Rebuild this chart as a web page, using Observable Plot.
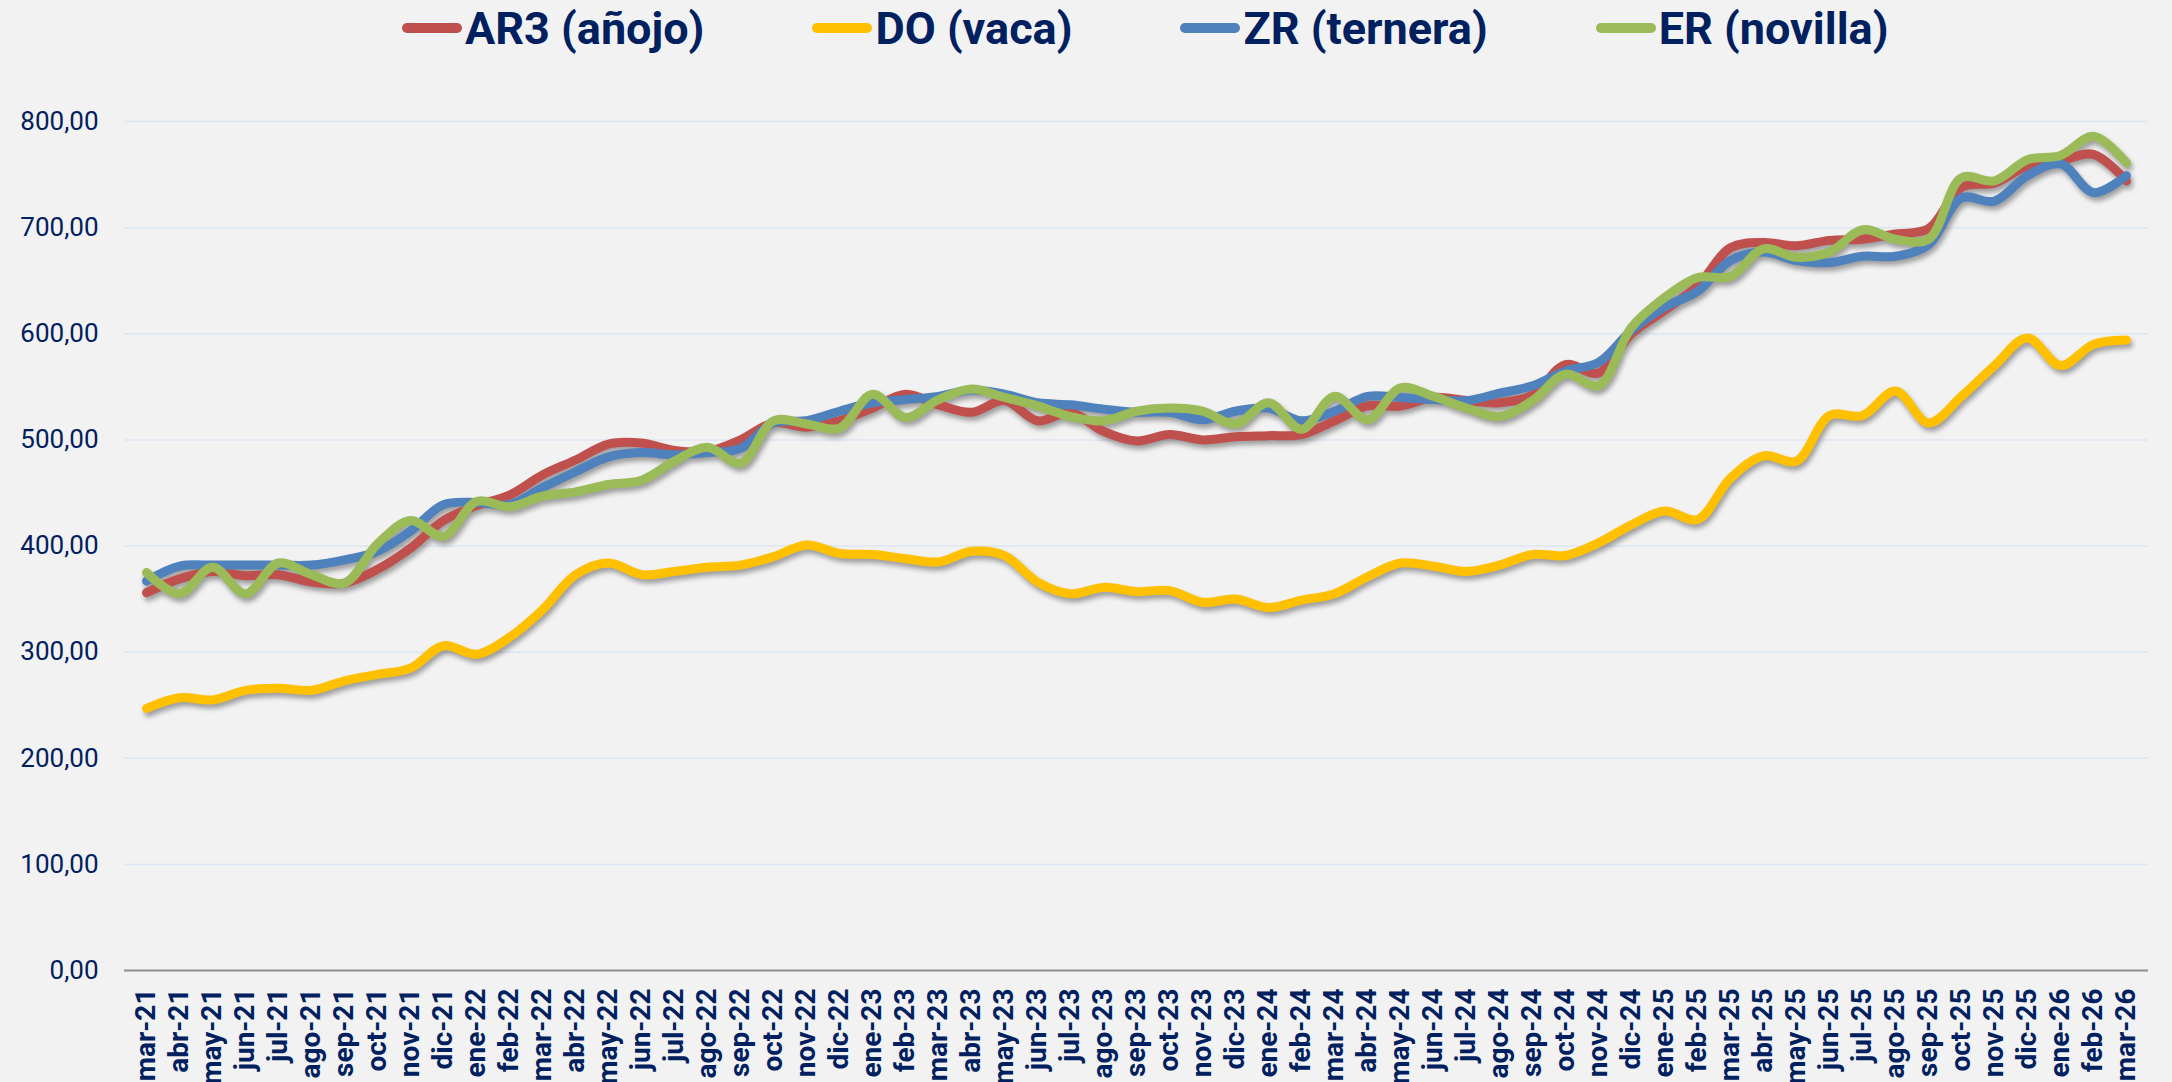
<!DOCTYPE html>
<html><head><meta charset="utf-8">
<script src="https://cdn.jsdelivr.net/npm/d3@7"></script>
<script src="https://cdn.jsdelivr.net/npm/@observablehq/plot@0.6"></script>
<style>
html,body{margin:0;padding:0;background:#f2f2f2;width:2172px;height:1082px;overflow:hidden;}
#legend{height:56px;display:flex;align-items:center;padding-left:402px;gap:108px;font-family:Roboto,sans-serif;font-weight:700;font-size:45px;color:#002060;box-sizing:border-box;}
.item{display:flex;align-items:center;white-space:nowrap;}
.sw{width:60px;height:10px;border-radius:5px;margin-right:3px;}
</style></head><body>
<div id="legend"></div>
<div id="chart"></div>
<script>
const months = ["mar-21","abr-21","may-21","jun-21","jul-21","ago-21","sep-21","oct-21","nov-21","dic-21",
"ene-22","feb-22","mar-22","abr-22","may-22","jun-22","jul-22","ago-22","sep-22","oct-22","nov-22","dic-22",
"ene-23","feb-23","mar-23","abr-23","may-23","jun-23","jul-23","ago-23","sep-23","oct-23","nov-23","dic-23",
"ene-24","feb-24","mar-24","abr-24","may-24","jun-24","jul-24","ago-24","sep-24","oct-24","nov-24","dic-24",
"ene-25","feb-25","mar-25","abr-25","may-25","jun-25","jul-25","ago-25","sep-25","oct-25","nov-25","dic-25",
"ene-26","feb-26","mar-26"];

const ar3 = [356,369,376,372,373,366,365,378,398,424,438,448,467,481,496,497,490,489,500,516,512,518,530,543,533,526,537,518,526,508,499,505,500,503,504,505,518,532,532,540,537,535,542,571,563,600,622,645,681,686,683,688,689,694,699,738,742,758,763,769,744];
const doVaca = [247,257,255,264,266,264,273,279,285,306,298,314,340,373,384,373,376,380,382,390,401,393,392,388,385,395,391,366,355,361,357,358,347,350,342,349,355,371,384,381,376,382,392,391,403,420,433,425,464,485,480,523,523,546,516,541,570,596,570,590,594];
const zr = [367,381,382,382,382,382,387,395,414,439,441,439,455,470,484,488,486,488,492,516,518,527,535,538,541,547,543,535,533,529,526,526,519,527,530,518,527,541,540,538,537,544,551,565,573,603,625,640,669,677,669,667,673,673,684,728,725,749,760,733,749];
const er = [375,355,380,355,384,373,365,402,424,409,442,437,447,451,458,462,480,493,478,518,515,511,543,521,538,548,540,532,522,518,527,530,527,515,535,510,541,519,549,541,530,522,537,562,551,606,634,653,654,680,672,677,698,689,689,747,744,764,768,786,761];

const seriesNames = ["AR3 (añojo)","DO (vaca)","ZR (ternera)","ER (novilla)"];
const seriesColors = ["#C0504D","#FFC000","#4F81BD","#9BBB59"];
const yTicks = [0,100,200,300,400,500,600,700,800];

const seriesValues = [ar3, doVaca, zr, er];
const data = [];
seriesNames.forEach((s, k) => seriesValues[k].forEach((v, i) => data.push({month: months[i], value: v, series: s})));

const legend = document.getElementById("legend");
seriesNames.forEach((s, k) => {
  const it = document.createElement("div"); it.className = "item";
  const sw = document.createElement("div"); sw.className = "sw"; sw.style.background = seriesColors[k];
  const tx = document.createElement("span"); tx.textContent = s;
  it.appendChild(sw); it.appendChild(tx); legend.appendChild(it);
});

const chart = Plot.plot({
  width: 2172, height: 1026,
  marginTop: 65, marginBottom: 112, marginLeft: 124, marginRight: 24,
  style: {background: "#f2f2f2", fontFamily: "Roboto, sans-serif", color: "#002060", overflow: "visible"},
  x: {type: "point", domain: months, padding: 0.5, label: null},
  y: {domain: [0, 800], label: null},
  color: {domain: seriesNames, range: seriesColors},
  marks: [
    Plot.ruleY(yTicks.filter(d => d > 0), {stroke: "#dce6f2", strokeWidth: 1.5}),
    Plot.ruleY([0], {stroke: "#8c8c8c", strokeWidth: 2}),
    Plot.axisY({ticks: yTicks, tickSize: 0, tickPadding: 26, tickFormat: d => d.toFixed(2).replace(".", ","), fontSize: 26, fill: "#002060", label: null}),
    Plot.axisX({tickSize: 0, tickPadding: 18, tickRotate: -90, fontSize: 28, fontWeight: 700, fill: "#002060", label: null}),
    Plot.line(data, {x: "month", y: "value", z: "series", stroke: "series", strokeWidth: 9, curve: "catmull-rom", strokeLinecap: "round", strokeLinejoin: "round"})
  ]
});
document.getElementById("chart").appendChild(chart);
chart.querySelectorAll('g[aria-label="line"]').forEach(g => g.style.filter = "drop-shadow(2px 4px 2.5px rgba(0,0,0,0.35))");
</script>
</body></html>
